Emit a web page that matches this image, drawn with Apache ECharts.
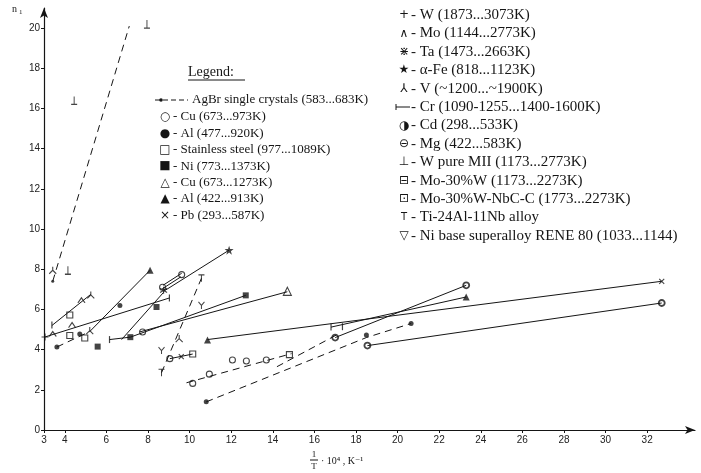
<!DOCTYPE html>
<html>
<head>
<meta charset="utf-8">
<script src="https://cdn.jsdelivr.net/npm/echarts@6/dist/echarts.min.js"></script>
<style>
  html, body { margin: 0; padding: 0; background: #fff; }
  #chart { width: 701px; height: 473px; }
</style>
</head>
<body>
<div id="chart"></div>
<script>
// axis ticks
const xTicks = [3, 4, 6, 8, 10, 12, 14, 16, 18, 20, 22, 24, 26, 28, 30, 32];
const yTicks = [0, 2, 4, 6, 8, 10, 12, 14, 16, 18, 20];

// lines [1/T*1e4, n1]
const agbr = [[3.42, 7.4], [7.1, 20.1]];
const wLong = [[3.05, 4.63], [9.03, 6.57]];
const steepLeft = [[3.38, 5.2], [5.25, 6.75]];
const alDashA = [[3.62, 4.13], [5.2, 4.9]];
const vLine = [[5.2, 4.9], [8.1, 7.95]];
const feLow = [[6.73, 4.5], [8.75, 6.85]];
const niLine = [[6.15, 4.5], [7.15, 4.62], [12.7, 6.7]];
const cuTriLine = [[7.6, 4.88], [14.7, 6.88]];
const feLine = [[8.75, 6.9], [11.9, 8.95]];
const mgTop = [[8.72, 7.2], [9.62, 7.8]];
const mgBot = [[8.68, 7.02], [9.58, 7.62]];
const tiDash = [[8.65, 2.85], [10.57, 7.55]];
const pbShort = [[9.05, 3.55], [10.15, 3.78]];
const cuDashA = [[9.85, 2.35], [14.9, 3.8]];
const cuDashB = [[14.2, 3.15], [17.1, 4.75]];
const alDashB = [[10.8, 1.4], [18.5, 4.6], [20.65, 5.3]];
const alTriLong = [[10.86, 4.5], [32.7, 7.4]];
const cdLong = [[18.55, 4.2], [32.7, 6.32]];
const cdLine = [[17.0, 4.6], [23.3, 7.2]];
const crTriLine = [[16.8, 5.12], [23.3, 6.62]];

// markers
const ptPlus = [[3.05, 4.63]];
const ptCaret = [[3.42, 4.78], [4.35, 5.22], [4.8, 6.45]];
const ptCrTick = [[3.38, 5.22], [6.15, 4.5], [9.03, 6.57], [16.8, 5.12], [17.35, 5.14]];
const ptInvY = [[3.42, 7.95], [5.25, 6.72], [5.2, 4.95], [9.5, 4.55]];
const ptTack = [[4.45, 16.4], [7.95, 20.2], [4.15, 7.95]];
const ptDot = [[3.62, 4.13], [6.65, 6.2], [10.8, 1.4], [18.5, 4.73], [20.65, 5.3], [4.72, 4.78]];
const ptOpenRect = [[4.24, 5.72], [4.24, 4.7], [4.96, 4.58], [10.15, 3.78], [14.8, 3.75]];
const ptRect = [[5.58, 4.15], [7.15, 4.62], [8.41, 6.12], [12.7, 6.7]];
const ptCircle = [[7.74, 4.88], [10.15, 2.32], [10.95, 2.78], [12.06, 3.48], [12.73, 3.43], [13.69, 3.48], [9.05, 3.55], [8.7, 7.1], [9.62, 7.73]];
const ptCd = [[17.0, 4.6], [23.3, 7.2], [18.55, 4.2], [32.7, 6.32]];
const ptTri = [[8.1, 7.95], [10.86, 4.48], [23.3, 6.62]];
const ptOpenTri = [[14.7, 6.9]];
const ptStar = [[11.9, 8.95]];
const ptAsterisk = [[8.75, 6.95]];
const ptCross = [[32.7, 7.4], [9.6, 3.65]];
const ptTee = [[8.65, 2.85], [10.57, 7.55]];
const ptY = [[8.65, 3.95], [10.57, 6.2]];

const legendLeft = [
  ['○', '- Cu (673...973K)'],
  ['●', '- Al (477...920K)'],
  ['□', '- Stainless steel (977...1089K)'],
  ['■', '- Ni (773...1373K)'],
  ['△', '- Cu (673...1273K)'],
  ['▲', '- Al (422...913K)'],
  ['×', '- Pb (293...587K)']
];
const legendRight = [
  ['+', '- W (1873...3073K)'],
  ['∧', '- Mo (1144...2773K)'],
  ['⋇', '- Ta (1473...2663K)'],
  ['★', '- α-Fe (818...1123K)'],
  ['⅄', '- V (~1200...~1900K)'],
  ['', '- Cr (1090-1255...1400-1600K)'],
  ['◑', '- Cd (298...533K)'],
  ['⊖', '- Mg (422...583K)'],
  ['⊥', '- W pure MII (1173...2773K)'],
  ['⊟', '- Mo-30%W (1173...2273K)'],
  ['⊡', '- Mo-30%W-NbC-C (1773...2273K)'],
  ['T', '- Ti-24Al-11Nb alloy'],
  ['▽', '- Ni base superalloy RENE 80 (1033...1144)']
];

const ink = '#151515';
const P = {
  plus: 'path://M0,5L10,5M5,0L5,10',
  cross: 'path://M0,0L10,10M10,0L0,10',
  caret: 'path://M0,8L5,0L10,8',
  asterisk: 'path://M5,0L5,10M0,2L10,8M10,2L0,8',
  star: 'path://M5,0L6.2,3.6L10,3.6L7,5.9L8.1,9.5L5,7.3L1.9,9.5L3,5.9L0,3.6L3.8,3.6Z',
  invY: 'path://M5,0L5,5L0,10M5,5L10,10',
  tack: 'path://M5,0L5,10M0,10L10,10',
  tee: 'path://M0,0L10,0M5,0L5,10',
  yMark: 'path://M0,0L5,5L10,0M5,5L5,10'
};

const ln = (data, dashed) => ({
  type: 'line', data, symbol: 'none', silent: true,
  lineStyle: { color: ink, width: 1, type: dashed ? [7, 5] : 'solid' }
});
const mk = (data, symbol, size, style) => ({
  type: 'scatter', data, symbol, symbolSize: size, silent: true,
  itemStyle: style
});
const stroke = { color: 'rgba(0,0,0,0)', borderColor: ink, borderWidth: 1.1 };
const fill = { color: ink };
const hollow = { color: '#fff', borderColor: ink, borderWidth: 1.1 };

const series = [
  ln(agbr, true), ln(wLong), ln(steepLeft), ln(alDashA, true), ln(vLine),
  ln(feLow), ln(niLine), ln(cuTriLine), ln(feLine), ln(mgTop), ln(mgBot),
  ln(tiDash, true), ln(pbShort), ln(cuDashA, true), ln(cuDashB, true),
  ln(alDashB, true), ln(alTriLong), ln(cdLong), ln(cdLine), ln(crTriLine),
  mk(ptPlus, P.plus, 7, stroke),
  mk(ptCaret, P.caret, [7, 5], stroke),
  mk(ptCrTick, 'rect', [1.2, 7], fill),
  mk(ptInvY, P.invY, 7, stroke),
  mk(ptTack, P.tack, [6, 8], stroke),
  mk(ptDot, 'circle', 5, fill),
  mk([agbr[0]], 'circle', 3, fill),
  mk(ptOpenRect, 'rect', 6, hollow),
  mk(ptRect, 'rect', 6, fill),
  mk(ptCircle, 'circle', 6, hollow),
  mk(ptCd, 'circle', 6, { color: '#fff', borderColor: ink, borderWidth: 1.8 }),
  mk(ptTri, 'triangle', 7, fill),
  mk(ptOpenTri, 'triangle', 8, hollow),
  mk(ptStar, P.star, 9, fill),
  mk(ptAsterisk, P.asterisk, 7, stroke),
  mk(ptCross, P.cross, 5, stroke),
  mk(ptTee, P.tee, [6, 7], stroke),
  mk(ptY, P.yMark, [6, 7], stroke)
];

const serif = '"Liberation Serif", "DejaVu Serif", serif';
const sym = '"DejaVu Sans", sans-serif';
const graphic = [];
const txt = (x, y, text, size, align, family) => ({
  type: 'text', x, y, silent: true,
  style: { text, fill: ink, font: size + 'px ' + (family || serif), align: align || 'left', verticalAlign: 'middle' }
});
const seg = (x1, y1, x2, y2, dash) => ({
  type: 'line', silent: true, shape: { x1, y1, x2, y2 },
  style: { stroke: ink, lineWidth: 1, lineDash: dash || null }
});

// left legend
graphic.push(txt(188, 72, 'Legend:', 14));
graphic.push(seg(188, 80, 245, 80));
graphic.push(seg(155, 100, 188, 100, [5, 3]));
graphic.push({ type: 'circle', silent: true, shape: { cx: 161, cy: 100, r: 1.8 }, style: { fill: ink } });
graphic.push(txt(192, 100, 'AgBr single crystals (583...683K)', 13));
legendLeft.forEach(([s, t], i) => {
  const y = 117 + i * 16.4;
  graphic.push(txt(165, y, s, 12, 'center', sym));
  graphic.push(txt(173, y, t, 13));
});

// right legend
legendRight.forEach(([s, t], i) => {
  const y = 15 + i * 18.4;
  if (s) graphic.push(txt(404, y, s, s === 'T' ? 10 : 12, 'center', sym));
  else {
    graphic.push(seg(396, y, 410, y));
    graphic.push(seg(396, y - 3, 396, y + 3));
  }
  graphic.push(txt(411, y, t, 15));
});

// axis names
graphic.push(txt(12, 9, 'n', 10));
graphic.push(txt(19, 12, '1', 7));
graphic.push(txt(314, 455, '1', 9, 'center'));
graphic.push(seg(310, 460, 318, 460));
graphic.push(txt(314, 467, 'T', 9, 'center'));
graphic.push(txt(321, 461, '· 10⁴ , K⁻¹', 10));

const chart = echarts.init(document.getElementById('chart'));
chart.setOption({
  animation: false,
  backgroundColor: '#fff',
  grid: { left: 44, right: 6, top: 8, bottom: 43 },
  xAxis: {
    type: 'value', min: 3, max: 34.3,
    axisLine: { lineStyle: { color: ink, width: 1.2 }, symbol: ['none', 'arrow'], symbolSize: [6, 10] },
    axisTick: { length: 3, lineStyle: { color: ink }, customValues: xTicks },
    axisLabel: { color: '#222', fontSize: 10, fontFamily: 'Liberation Sans', margin: 5, customValues: xTicks },
    splitLine: { show: false }
  },
  yAxis: {
    type: 'value', min: 0, max: 21,
    axisLine: { show: true, lineStyle: { color: ink, width: 1.2 }, symbol: ['none', 'arrow'], symbolSize: [6, 10] },
    axisTick: { show: true, length: 3, lineStyle: { color: ink }, customValues: yTicks },
    axisLabel: { color: '#222', fontSize: 10, fontFamily: 'Liberation Sans', margin: 4, customValues: yTicks },
    splitLine: { show: false }
  },
  series,
  graphic
});
</script>
</body>
</html>
